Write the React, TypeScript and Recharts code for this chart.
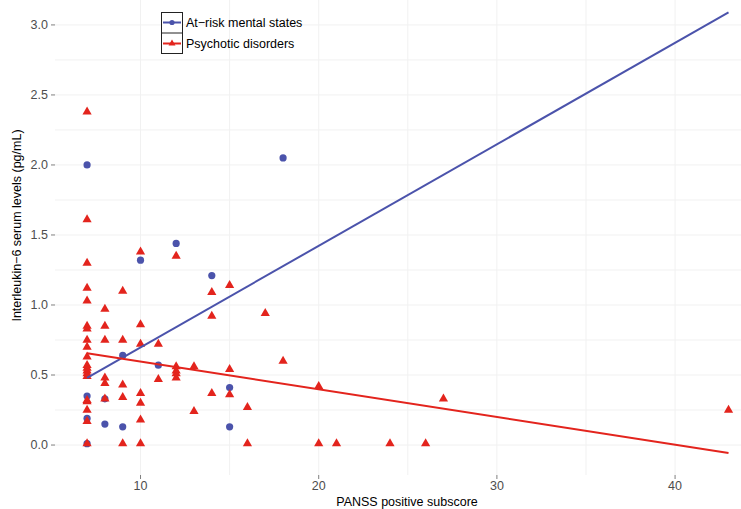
import React from 'react';
import { ComposedChart, Scatter, XAxis, YAxis, CartesianGrid, Label } from 'recharts';

// At-risk mental states (ARMS)
const armsX = [7, 7, 7, 7, 8, 8, 9, 9, 10, 11, 12, 14, 15, 15, 18];
const armsY = [2.0, 0.35, 0.19, 0.01, 0.33, 0.15, 0.64, 0.13, 1.32, 0.57, 1.44, 1.21, 0.41, 0.13, 2.05];

// Psychotic disorders
const psyX = [
  7, 7, 7, 7, 7, 7, 7, 7, 7, 7, 7, 7, 7, 7, 7, 7, 7, 7, 7, 7,
  8, 8, 8, 8, 8, 8,
  9, 9, 9, 9, 9,
  10, 10, 10, 10, 10, 10, 10,
  11, 11,
  12, 12, 12, 12, 12,
  13, 13,
  14, 14, 14,
  15, 15, 15,
  16, 16,
  17, 18, 20, 20, 21, 24, 26, 27, 43,
];
const psyY = [
  2.38, 1.61, 1.3, 1.12, 1.03, 0.85, 0.83, 0.75, 0.7, 0.63, 0.57, 0.55, 0.53, 0.51, 0.49, 0.32, 0.31, 0.25, 0.17, 0.01,
  0.97, 0.85, 0.75, 0.48, 0.44, 0.33,
  1.1, 0.75, 0.43, 0.34, 0.01,
  1.38, 0.86, 0.72, 0.37, 0.3, 0.18, 0.01,
  0.72, 0.47,
  1.35, 0.56, 0.53, 0.51, 0.48,
  0.56, 0.24,
  1.09, 0.92, 0.37,
  1.14, 0.54, 0.36,
  0.27, 0.01,
  0.94, 0.6, 0.42, 0.01, 0.01, 0.01, 0.01, 0.33, 0.25,
];

// Fitted regression line endpoints
const armsFitX = [7, 43];
const armsFitY = [0.48, 3.09];
const psyFitX = [7, 43];
const psyFitY = [0.655, -0.057];

const xTicks = [10, 20, 30, 40];
const yTicks = [0, 0.5, 1, 1.5, 2, 2.5, 3];
const xGrid = [10, 15, 20, 25, 30, 35, 40];
const yGrid = [0, 0.25, 0.5, 0.75, 1, 1.25, 1.5, 1.75, 2, 2.25, 2.5, 2.75, 3];

const seriesNames = ['At\u2212risk mental states', 'Psychotic disorders'];
const BLUE = '#4b53ab';
const RED = '#e3241d';

const zip = (xs: number[], ys: number[]) => xs.map((x, i) => ({ x, y: ys[i] }));
const armsData = zip(armsX, armsY);
const psyData = zip(psyX, psyY);
const armsFit = zip(armsFitX, armsFitY);
const psyFit = zip(psyFitX, psyFitY);

const FONT = '"Liberation Sans", Arial, Helvetica, sans-serif';
const FS = 12.5;

const Dot = (props: any) => <circle cx={props.cx} cy={props.cy} r={3.6} fill={BLUE} />;
const Tri = (props: any) => {
  const { cx, cy } = props;
  const w = 4.6;
  const h = 8;
  return (
    <polygon
      points={`${cx - w},${cy + h / 3} ${cx + w},${cy + h / 3} ${cx},${cy - (2 * h) / 3}`}
      fill={RED}
    />
  );
};
const NoShape = () => <g />;

const LegendBox = () => (
  <div style={{ position: 'absolute', left: 161, top: 12, fontFamily: FONT, fontSize: FS, color: '#000' }}>
    {seriesNames.map((name, i) => (
      <div key={name} style={{ display: 'flex', alignItems: 'center', height: 21 }}>
        <svg width={22} height={21} style={{ display: 'block' }}>
          <rect x={0.5} y={i === 0 ? 0.5 : 0} width={21} height={20.5} fill="#fff" stroke="#222" strokeWidth={1} />
          <line x1={2} x2={20} y1={10.5} y2={10.5} stroke={i === 0 ? BLUE : RED} strokeWidth={2} />
          {i === 0 ? (
            <circle cx={11} cy={10.5} r={2.6} fill={BLUE} />
          ) : (
            <polygon points="7.5,12.5 14.5,12.5 11,6.5" fill={RED} />
          )}
        </svg>
        <span style={{ marginLeft: 3, whiteSpace: 'nowrap' }}>{name}</span>
      </div>
    ))}
  </div>
);

export default function App() {
  return (
    <div style={{ position: 'absolute', left: 0, top: 0, width: 741, height: 509, background: '#fff', overflow: 'hidden' }}>
      <ComposedChart width={741} height={509} margin={{ top: 0, right: 0, bottom: 0, left: 0 }}>
        <CartesianGrid
          stroke="#f1f1f1"
          strokeWidth={1}
          verticalValues={xGrid}
          horizontalValues={yGrid}
        />
        <XAxis
          type="number"
          dataKey="x"
          domain={[5.2, 43.7]}
          ticks={xTicks}
          allowDataOverflow
          height={34}
          axisLine={false}
          tickSize={4}
          tickLine={{ stroke: '#7f7f7f' }}
          tick={{ fill: '#4d4d4d', fontSize: FS, fontFamily: FONT }}
          tickMargin={2}
        >
          <Label
            content={(p: any) => {
              const vb = p.viewBox;
              return (
                <text x={407} y={vb.y + 31} textAnchor="middle" fontSize={FS} fontFamily={FONT} fill="#000">
                  PANSS positive subscore
                </text>
              );
            }}
          />
        </XAxis>
        <YAxis
          type="number"
          dataKey="y"
          domain={[-0.214, 3.178]}
          ticks={yTicks}
          allowDataOverflow
          width={55}
          axisLine={false}
          tickSize={4}
          tickLine={{ stroke: '#7f7f7f' }}
          tick={{ fill: '#4d4d4d', fontSize: FS, fontFamily: FONT }}
          tickMargin={3}
          tickFormatter={(v: number) => v.toFixed(1)}
        >
          <Label
            content={() => {
              const cy = 225.5;
              return (
                <text
                  x={21}
                  y={cy}
                  textAnchor="middle"
                  fontSize={FS}
                  fontFamily={FONT}
                  fill="#000"
                  transform={`rotate(-90, 21, ${cy})`}
                >
                  Interleukin{'\u2212'}6 serum levels (pg/mL)
                </text>
              );
            }}
          />
        </YAxis>
        <Scatter data={armsData} shape={Dot} isAnimationActive={false} />
        <Scatter data={psyData} shape={Tri} isAnimationActive={false} />
        <Scatter data={armsFit} shape={NoShape} line={{ stroke: BLUE, strokeWidth: 2 }} isAnimationActive={false} />
        <Scatter data={psyFit} shape={NoShape} line={{ stroke: RED, strokeWidth: 2 }} isAnimationActive={false} />
      </ComposedChart>
      <LegendBox />
    </div>
  );
}
